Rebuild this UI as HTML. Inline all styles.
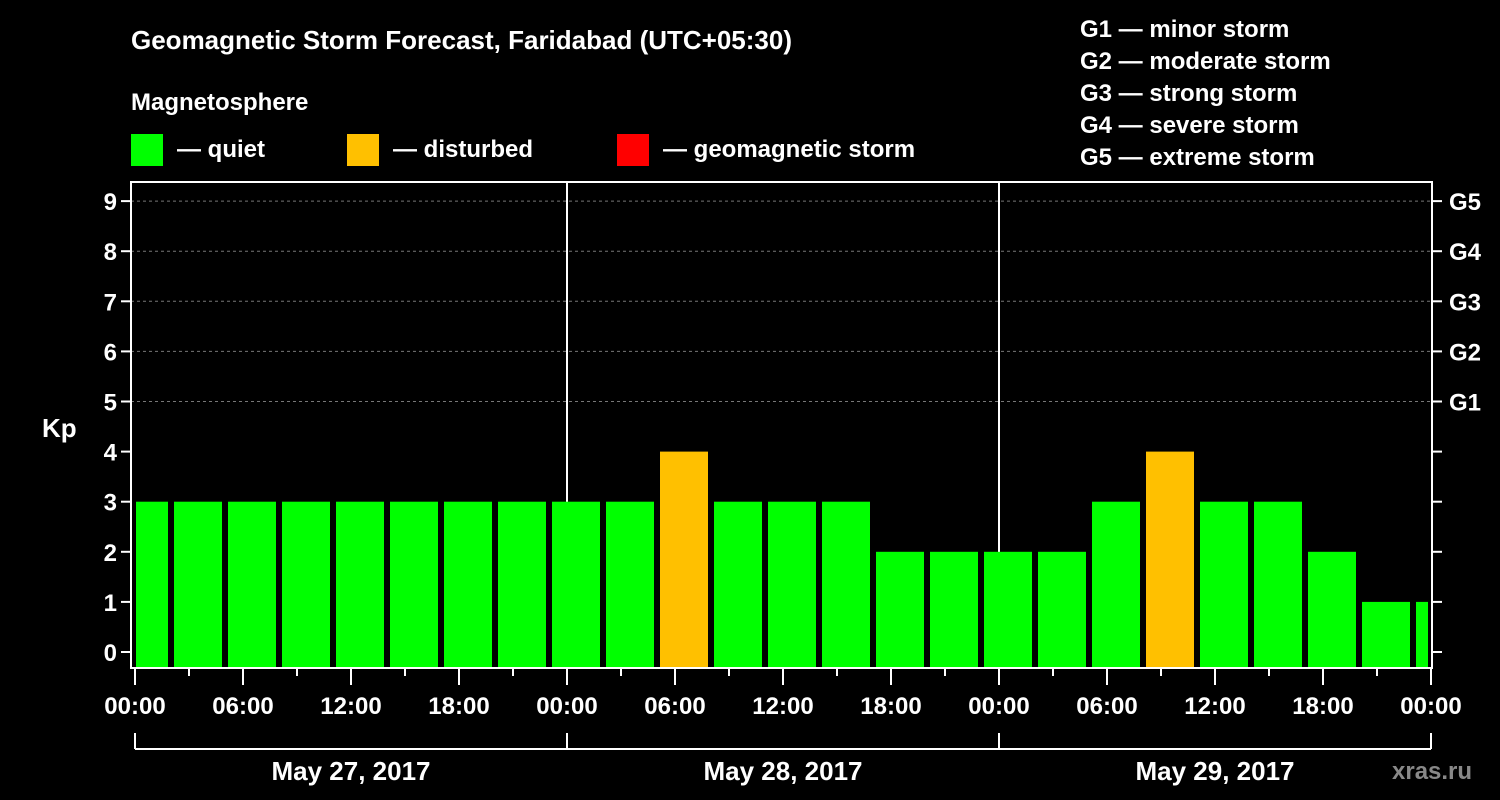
<!DOCTYPE html>
<html><head><meta charset="utf-8"><style>
html,body{margin:0;padding:0;background:#000;}
svg{display:block;font-family:"Liberation Sans",Arial,sans-serif;font-weight:bold;}
</style></head><body>
<svg id="chart" width="1500" height="800" viewBox="0 0 1500 800">
<rect x="0" y="0" width="1500" height="800" fill="#000"/>
<text x="131" y="49" fill="#fff" font-size="26">Geomagnetic Storm Forecast, Faridabad (UTC+05:30)</text>
<text x="131" y="110" fill="#fff" font-size="24">Magnetosphere</text>
<g><rect x="131" y="134" width="32" height="32" fill="#00ff00"/><text x="177" y="157" fill="#fff" font-size="24">— quiet</text></g>
<g><rect x="347" y="134" width="32" height="32" fill="#ffc000"/><text x="393" y="157" fill="#fff" font-size="24">— disturbed</text></g>
<g><rect x="617" y="134" width="32" height="32" fill="#ff0000"/><text x="663" y="157" fill="#fff" font-size="24">— geomagnetic storm</text></g>
<g fill="#fff" font-size="24">
<text x="1080" y="37">G1 — minor storm</text>
<text x="1080" y="69">G2 — moderate storm</text>
<text x="1080" y="101">G3 — strong storm</text>
<text x="1080" y="133">G4 — severe storm</text>
<text x="1080" y="165">G5 — extreme storm</text>
</g>
<text x="42" y="437" fill="#fff" font-size="26">Kp</text>
<g id="grid"></g><g id="bars"></g><g id="axes"></g>
<text x="1392" y="779" fill="#888" font-size="24">xras.ru</text>
</svg>
<script>
const kpValues=[3,3,3,3,3,3,3,3,3,3,4,3,3,3,2,2,2,2,3,4,3,3,2,1,1];
const barStartHours=[-1,2,5,8,11,14,17,20,23,26,29,32,35,38,41,44,47,50,53,56,59,62,65,68,71];
const yTicks=[0,1,2,3,4,5,6,7,8,9];
const gLabels=["","","","","","G1","G2","G3","G4","G5"];
const xTickLabels=["00:00","06:00","12:00","18:00","00:00","06:00","12:00","18:00","00:00","06:00","12:00","18:00","00:00"];
const dayLabels=["May 27, 2017","May 28, 2017","May 29, 2017"];
const NS="http://www.w3.org/2000/svg";
const L=131,R=1432,T=182,B=668,X0=135,PXH=18;
const xs=h=>X0+h*PXH; const ys=v=>652-v*50.1;
function mk(tag,attrs,parent){const e=document.createElementNS(NS,tag);for(const k in attrs)e.setAttribute(k,attrs[k]);parent.appendChild(e);return e;}
const grid=document.getElementById('grid'),bars=document.getElementById('bars'),axes=document.getElementById('axes');
yTicks.forEach((v,i)=>{
 if(v>=5){const g=mk('line',{x1:L,x2:R,y1:ys(v),y2:ys(v),stroke:'#777','stroke-dasharray':'3,3','stroke-width':1},grid);
 
 }
 const t=mk('line',{x1:L-10,x2:L,y1:ys(v),y2:ys(v),stroke:'#fff','stroke-width':2},axes);
 
 
 const t2=mk('line',{x1:R,x2:R+10,y1:ys(v),y2:ys(v),stroke:'#fff','stroke-width':2},axes);
 
 
 const lb=mk('text',{x:L-14,y:ys(v)+9,fill:'#fff','font-size':24,'text-anchor':'end'},axes);lb.textContent=v;
 
 
 if(gLabels[i]){const gl=mk('text',{x:R+17,y:ys(v)+9,fill:'#fff','font-size':24},axes);gl.textContent=gLabels[i];
 
 }
});
kpValues.forEach((v,i)=>{
 let x1=xs(barStartHours[i])+3,x2=xs(barStartHours[i]+3)-3;
 x1=Math.max(x1,L+5);x2=Math.min(x2,R-4);
 const c=v>=5?'#ff0000':(v>=4?'#ffc000':'#00ff00');
 const r=mk('rect',{x:x1,y:ys(v),width:x2-x1,height:B-ys(v),fill:c},bars);
 
 
});
[1,2].forEach(d=>{const l=mk('line',{x1:xs(24*d),x2:xs(24*d),y1:T,y2:B,stroke:'#fff','stroke-width':2},grid);
 
 });
const fr=mk('rect',{x:L,y:T,width:R-L,height:B-T,fill:'none',stroke:'#fff','stroke-width':2},axes);


for(let h=0;h<=72;h+=3){const major=h%6===0;
 const t=mk('line',{x1:xs(h),x2:xs(h),y1:B,y2:B+(major?17:8),stroke:'#fff','stroke-width':2},axes);
 
 }
xTickLabels.forEach((s,i)=>{const t=mk('text',{x:xs(i*6),y:714,fill:'#fff','font-size':24,'text-anchor':'middle'},axes);t.textContent=s;
 
 });
const br=mk('path',{d:'',fill:'none',stroke:'#fff','stroke-width':2},axes);
let d='M'+xs(0)+',749 H'+xs(72);for(let k=0;k<=3;k++)d+=' M'+xs(24*k)+',733 V749';
br.setAttribute('d',d);


dayLabels.forEach((s,i)=>{const t=mk('text',{x:xs(24*i+12),y:780,fill:'#fff','font-size':26,'text-anchor':'middle'},axes);t.textContent=s;
 
 });
</script>
</body></html>
